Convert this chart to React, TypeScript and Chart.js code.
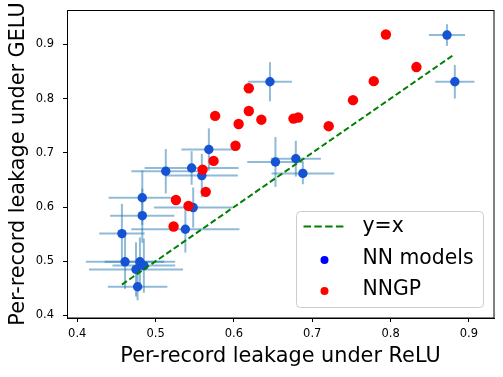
import React, { useEffect, useRef } from "react";
import { Chart, registerables } from "chart.js";
Chart.register(...registerables);

// NN models (blue) with error bars
const blueX = [0.872, 0.882, 0.646, 0.568, 0.653, 0.679, 0.688, 0.546, 0.513, 0.559, 0.483, 0.483, 0.548, 0.538, 0.457, 0.461, 0.48, 0.475, 0.485, 0.477];
const blueY = [0.917, 0.831, 0.831, 0.706, 0.683, 0.689, 0.662, 0.672, 0.666, 0.658, 0.617, 0.584, 0.599, 0.559, 0.551, 0.499, 0.499, 0.485, 0.492, 0.453];
const blueXErr = [0.023, 0.025, 0.028, 0.035, 0.036, 0.032, 0.04, 0.06, 0.044, 0.046, 0.043, 0.041, 0.05, 0.069, 0.029, 0.05, 0.045, 0.06, 0.04, 0.038];
const blueYErr = [0.02, 0.031, 0.036, 0.039, 0.046, 0.033, 0.02, 0.031, 0.041, 0.04, 0.05, 0.05, 0.037, 0.043, 0.055, 0.05, 0.045, 0.05, 0.05, 0.025];

// NNGP (red)
const redX = [0.794, 0.833, 0.7785, 0.752, 0.676, 0.682, 0.721, 0.619, 0.576, 0.619, 0.606, 0.635, 0.602, 0.574, 0.56, 0.564, 0.526, 0.542, 0.523];
const redY = [0.918, 0.858, 0.832, 0.797, 0.763, 0.765, 0.749, 0.819, 0.768, 0.777, 0.753, 0.761, 0.713, 0.685, 0.669, 0.628, 0.613, 0.602, 0.564];

// y = x reference line
const lineX = [0.457, 0.882];

const xTicks = [0.4, 0.5, 0.6, 0.7, 0.8, 0.9];
const yTicks = [0.4, 0.5, 0.6, 0.7, 0.8, 0.9];
const legendLabels = ["y=x", "NN models", "NNGP"];

const FONT = "'DejaVu Sans', sans-serif";
const BLUE = "rgb(21,82,212)";
const RED = "#ff0000";
const GREEN = "#008000";

export default function App() {
  const ref = useRef<HTMLCanvasElement>(null);
  useEffect(() => {
    document.body.style.margin = "0";
    const errorBars = {
      id: "errorBars",
      beforeDatasetsDraw(chart: any) {
        const { ctx, scales } = chart;
        const xs = scales.x, ys = scales.y;
        ctx.save();
        ctx.strokeStyle = "rgba(31,119,180,0.5)";
        ctx.lineWidth = 2;
        for (let i = 0; i < blueX.length; i++) {
          const px = xs.getPixelForValue(blueX[i]);
          const py = ys.getPixelForValue(blueY[i]);
          ctx.beginPath();
          ctx.moveTo(xs.getPixelForValue(blueX[i] - blueXErr[i]), py);
          ctx.lineTo(xs.getPixelForValue(blueX[i] + blueXErr[i]), py);
          ctx.stroke();
          ctx.beginPath();
          ctx.moveTo(px, ys.getPixelForValue(blueY[i] - blueYErr[i]));
          ctx.lineTo(px, ys.getPixelForValue(blueY[i] + blueYErr[i]));
          ctx.stroke();
        }
        ctx.restore();
      },
    };
    const frameAndLegend = {
      id: "frameAndLegend",
      afterDraw(chart: any) {
        const { ctx, chartArea } = chart;
        const { left, right, top, bottom } = chartArea;
        ctx.save();
        ctx.strokeStyle = "#000";
        ctx.lineWidth = 1;
        ctx.strokeRect(left + 0.5, top + 0.5, right - left - 0.5, bottom - top - 0.5);

        // legend
        const bw = 187, bh = 96;
        const bx = right - 11 - bw + 0.5;
        const by = bottom - 11 - bh + 0.5;
        ctx.beginPath();
        (ctx as any).roundRect(bx, by, bw, bh, 4);
        ctx.fillStyle = "rgba(255,255,255,0.8)";
        ctx.fill();
        ctx.strokeStyle = "#cccccc";
        ctx.lineWidth = 1;
        ctx.stroke();

        const rowY = [by + 15.5, by + 47.5, by + 78];
        const markY = [by + 15, by + 48.5, by + 79.5];
        // line sample
        ctx.beginPath();
        ctx.setLineDash([7.5, 3.3]);
        ctx.strokeStyle = GREEN;
        ctx.lineWidth = 2;
        ctx.moveTo(bx + 7, markY[0]);
        ctx.lineTo(bx + 48, markY[0]);
        ctx.stroke();
        ctx.setLineDash([]);
        // markers
        ctx.fillStyle = "#0000ff";
        ctx.beginPath();
        ctx.arc(bx + 28, markY[1], 4, 0, Math.PI * 2);
        ctx.fill();
        ctx.fillStyle = RED;
        ctx.beginPath();
        ctx.arc(bx + 28, markY[2], 4, 0, Math.PI * 2);
        ctx.fill();
        // labels
        ctx.fillStyle = "#000";
        ctx.font = `20.4px ${FONT}`;
        ctx.textBaseline = "middle";
        ctx.textAlign = "left";
        legendLabels.forEach((t, i) => ctx.fillText(t, bx + 66, rowY[i]));
        ctx.restore();
      },
    };

    const chart = new Chart(ref.current as HTMLCanvasElement, {
      type: "scatter",
      data: {
        datasets: [
          {
            type: "line",
            label: legendLabels[0],
            data: lineX.map((v) => ({ x: v, y: v })),
            borderColor: GREEN,
            borderWidth: 2,
            borderDash: [6, 3],
            pointRadius: 0,
            fill: false,
            order: 0,
          } as any,
          {
            label: legendLabels[2],
            data: redX.map((x, i) => ({ x, y: redY[i] })),
            backgroundColor: RED,
            borderWidth: 0,
            pointRadius: 5.2,
            order: 1,
          },
          {
            label: legendLabels[1],
            data: blueX.map((x, i) => ({ x, y: blueY[i] })),
            backgroundColor: BLUE,
            borderWidth: 0,
            pointRadius: 4.7,
            order: 2,
          },
        ],
      },
      options: {
        animation: false,
        responsive: false,
        devicePixelRatio: 1,
        layout: { padding: { top: 10, right: 9, left: 0, bottom: 0 } },
        plugins: { legend: { display: false }, tooltip: { enabled: false } },
        scales: {
          x: {
            type: "linear",
            min: 0.3869,
            max: 0.932,
            afterBuildTicks: (a: any) => {
              a.ticks = xTicks.map((v) => ({ value: v }));
            },
            afterFit: (s: any) => {
              s.height = 59;
              s.paddingLeft = 0;
              s.paddingRight = 0;
            },
            ticks: {
              callback: (v: any) => Number(v).toFixed(1),
              font: { family: FONT, size: 11.5 },
              color: "#000",
              padding: 5,
              maxRotation: 0,
              autoSkip: false,
            },
            grid: { drawOnChartArea: false, drawTicks: true, tickLength: 4, tickColor: "#000", color: "#000" },
            border: { display: true, color: "#000", width: 1 },
            title: {
              display: true,
              text: "Per-record leakage under ReLU",
              font: { family: FONT, size: 20.8 },
              color: "#000",
              padding: { top: 0, bottom: 8 },
            },
          },
          y: {
            type: "linear",
            min: 0.3954,
            max: 0.9632,
            afterBuildTicks: (a: any) => {
              a.ticks = yTicks.map((v) => ({ value: v }));
            },
            afterFit: (s: any) => {
              s.width = 67;
              s.paddingTop = 0;
              s.paddingBottom = 0;
            },
            ticks: {
              callback: (v: any) => Number(v).toFixed(1),
              font: { family: FONT, size: 11.5 },
              color: "#000",
              padding: 9,
              autoSkip: false,
            },
            grid: { drawOnChartArea: false, drawTicks: true, tickLength: 4, tickColor: "#000", color: "#000" },
            border: { display: true, color: "#000", width: 1 },
            title: {
              display: true,
              text: "Per-record leakage under GELU",
              font: { family: FONT, size: 20.8 },
              color: "#000",
              padding: { top: 6, bottom: 0 },
            },
          },
        },
      },
      plugins: [errorBars, frameAndLegend],
    });
    return () => chart.destroy();
  }, []);
  return (
    <div style={{ width: 503, height: 377 }}>
      <canvas ref={ref} width={503} height={377} style={{ display: "block" }} />
    </div>
  );
}
